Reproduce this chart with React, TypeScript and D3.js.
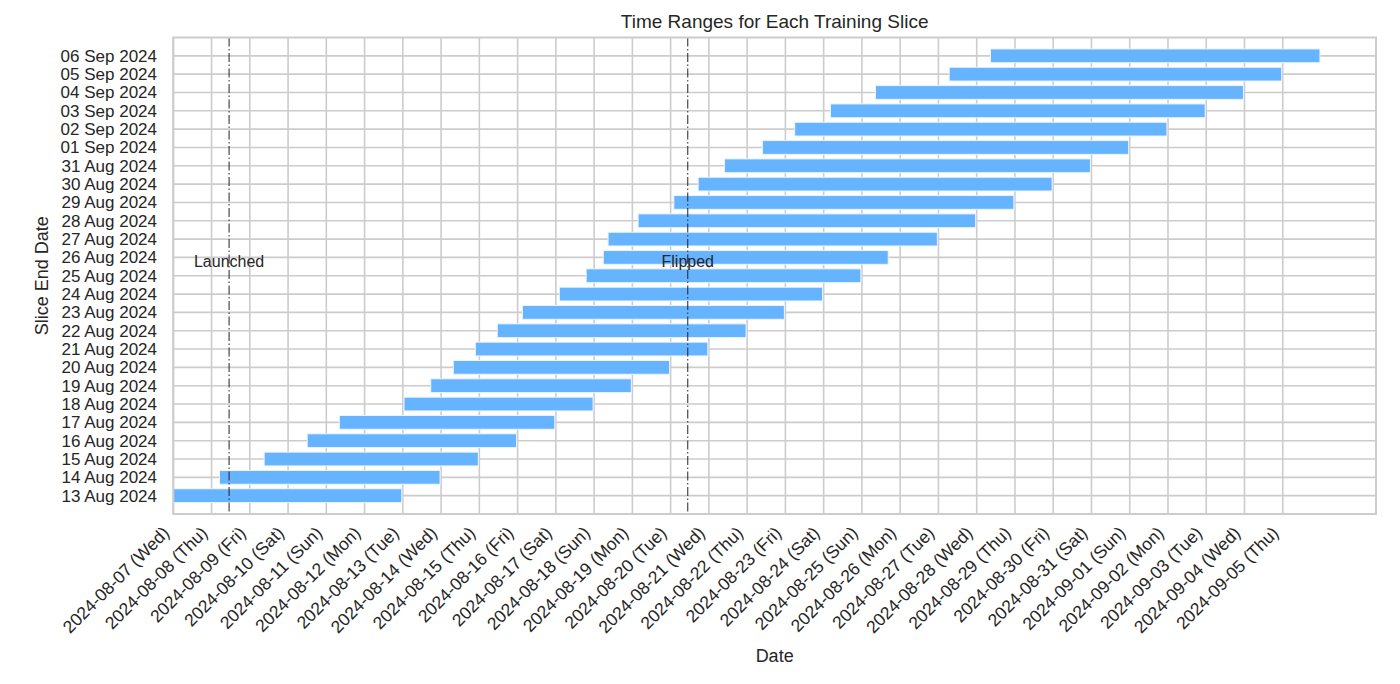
import React from "react";
import * as d3 from "d3";

// ---- data ----
const sliceEndDates: string[] = [
  "2024-08-13", "2024-08-14", "2024-08-15", "2024-08-16", "2024-08-17",
  "2024-08-18", "2024-08-19", "2024-08-20", "2024-08-21", "2024-08-22",
  "2024-08-23", "2024-08-24", "2024-08-25", "2024-08-26", "2024-08-27",
  "2024-08-28", "2024-08-29", "2024-08-30", "2024-08-31", "2024-09-01",
  "2024-09-02", "2024-09-03", "2024-09-04", "2024-09-05", "2024-09-06",
];

const sliceStarts: string[] = [
  "2024-08-07T00:00", "2024-08-08T05:00", "2024-08-09T09:00", "2024-08-10T12:00", "2024-08-11T08:10",
  "2024-08-13T00:45", "2024-08-13T17:30", "2024-08-14T07:40", "2024-08-14T21:30", "2024-08-15T11:15",
  "2024-08-16T03:00", "2024-08-17T02:10", "2024-08-17T19:00", "2024-08-18T05:45", "2024-08-18T08:45",
  "2024-08-19T03:35", "2024-08-20T02:00", "2024-08-20T17:15", "2024-08-21T09:45", "2024-08-22T09:35",
  "2024-08-23T05:50", "2024-08-24T04:15", "2024-08-25T08:30", "2024-08-27T06:45", "2024-08-28T08:40",
];

const sliceEnds: string[] = [
  "2024-08-12T23:20", "2024-08-13T23:20", "2024-08-14T23:20", "2024-08-15T23:20", "2024-08-16T23:20",
  "2024-08-17T23:20", "2024-08-18T23:20", "2024-08-19T23:20", "2024-08-20T23:20", "2024-08-21T23:20",
  "2024-08-22T23:20", "2024-08-23T23:20", "2024-08-24T23:20", "2024-08-25T16:30", "2024-08-26T23:20",
  "2024-08-27T23:20", "2024-08-28T23:20", "2024-08-29T23:20", "2024-08-30T23:20", "2024-08-31T23:20",
  "2024-09-01T23:20", "2024-09-02T23:20", "2024-09-03T23:20", "2024-09-04T23:20", "2024-09-05T23:20",
];

const xDomain: string[] = ["2024-08-07T00:00", "2024-09-07T10:30"];
const xTickStart = "2024-08-07T00:00";
const xTickEnd = "2024-09-05T00:00";

const events: { label: string; time: string }[] = [
  { label: "Launched", time: "2024-08-08T11:00" },
  { label: "Flipped", time: "2024-08-20T10:45" },
];

const title = "Time Ranges for Each Training Slice";
const xLabel = "Date";
const yLabel = "Slice End Date";

// ---- layout ----
const W = 1400;
const H = 684;
const plot = { left: 173.3, right: 1376, top: 37.5, bottom: 514 };
const FONT = "'Liberation Sans', Arial, 'DejaVu Sans', sans-serif";
const TEXT = "#262626";
const GRID = "#cccccc";
const BAR = "#66b3ff";

const parse = (s: string) => new Date(s + ":00Z");

export default function App() {
  const x = d3
    .scaleUtc()
    .domain(xDomain.map(parse))
    .range([plot.left, plot.right]);
  const n = sliceEndDates.length;
  const y = d3.scaleLinear().domain([-1, n]).range([plot.bottom, plot.top]);
  const rowH = Math.abs(y(1) - y(0));
  const barH = rowH * 0.75;

  const xTicks = d3.utcDay.range(parse(xTickStart), d3.utcDay.offset(parse(xTickEnd), 1));
  const fmtX = d3.utcFormat("%Y-%m-%d (%a)");
  const fmtY = d3.utcFormat("%d %b %Y");

  const rows = sliceEndDates.map((d, i) => ({
    i,
    label: fmtY(parse(d + "T00:00")),
    start: parse(sliceStarts[i]),
    end: parse(sliceEnds[i]),
  }));

  return (
    <svg
      width={W}
      height={H}
      style={{ position: "absolute", left: 0, top: 0, background: "#fff" }}
      fontFamily={FONT}
    >
      {/* grid */}
      <g>
        {xTicks.map((t, k) => (
          <line
            key={"vx" + k}
            x1={x(t)}
            x2={x(t)}
            y1={plot.top}
            y2={plot.bottom}
            stroke={GRID}
            strokeWidth={1.6}
          />
        ))}
        {rows.map((r) => (
          <line
            key={"hy" + r.i}
            x1={plot.left}
            x2={plot.right}
            y1={y(r.i)}
            y2={y(r.i)}
            stroke={GRID}
            strokeWidth={1.6}
          />
        ))}
      </g>

      {/* bars */}
      <g>
        {rows.map((r) => (
          <rect
            key={"b" + r.i}
            x={x(r.start)}
            y={y(r.i) - barH / 2}
            width={x(r.end) - x(r.start)}
            height={barH}
            fill={BAR}
            stroke="#eaf4ff"
            strokeWidth={1}
          />
        ))}
      </g>

      {/* event lines */}
      <g>
        {events.map((e) => (
          <g key={e.label}>
            <line
              x1={x(parse(e.time))}
              x2={x(parse(e.time))}
              y1={plot.top}
              y2={plot.bottom}
              stroke="#222"
              strokeWidth={1}
              strokeDasharray="9,2.5,1.5,2.5"
            />
            <text
              x={x(parse(e.time))}
              y={y(n / 2)}
              textAnchor="middle"
              fontSize={16}
              fill={TEXT}
            >
              {e.label}
            </text>
          </g>
        ))}
      </g>

      {/* frame */}
      <rect
        x={plot.left}
        y={plot.top}
        width={plot.right - plot.left}
        height={plot.bottom - plot.top}
        fill="none"
        stroke={GRID}
        strokeWidth={2}
      />

      {/* y tick labels */}
      <g>
        {rows.map((r) => (
          <text
            key={"yl" + r.i}
            x={157}
            y={y(r.i)}
            dy="0.35em"
            textAnchor="end"
            fontSize={17}
            fill={TEXT}
          >
            {r.label}
          </text>
        ))}
      </g>

      {/* x tick labels */}
      <g>
        {xTicks.map((t, k) => {
          const ax = x(t) - 3;
          const ay = 534;
          return (
            <text
              key={"xl" + k}
              x={ax}
              y={ay}
              textAnchor="end"
              fontSize={17.5}
              fill={TEXT}
              transform={`rotate(-45 ${ax} ${ay})`}
            >
              {fmtX(t)}
            </text>
          );
        })}
      </g>

      {/* titles */}
      <text
        x={(plot.left + plot.right) / 2}
        y={28}
        textAnchor="middle"
        fontSize={19}
        fill={TEXT}
      >
        {title}
      </text>
      <text
        x={(plot.left + plot.right) / 2}
        y={662}
        textAnchor="middle"
        fontSize={18}
        fill={TEXT}
      >
        {xLabel}
      </text>
      <text
        transform={`translate(48 ${(plot.top + plot.bottom) / 2}) rotate(-90)`}
        textAnchor="middle"
        fontSize={18}
        fill={TEXT}
      >
        {yLabel}
      </text>
    </svg>
  );
}
